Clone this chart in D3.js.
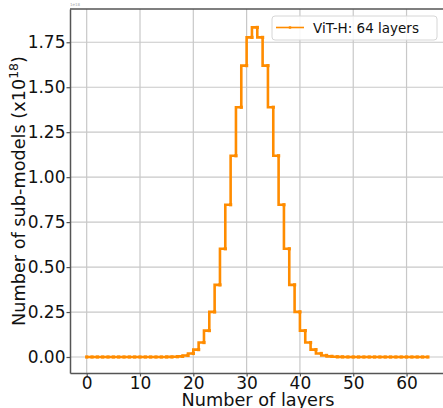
<!DOCTYPE html>
<html>
<head>
<meta charset="utf-8">
<script src="https://cdn.jsdelivr.net/npm/d3@7"></script>
<style>
  body { margin: 0; background: #fff; }
  svg { display: block; font-family: "DejaVu Sans", sans-serif; }
</style>
</head>
<body>
<div id="chart"></div>
<script>
// number of layers kept (0..64)
const layers = d3.range(0, 65);
// number of sub-models, in units of 1e18
const subModels = [
  0, 0, 0, 0, 0, 0, 0, 0, 0, 0,
  0, 0, 0, 0, 0.00002, 0.00017, 0.0005, 0.0014, 0.0036, 0.0087,
  0.0196, 0.0411, 0.0803, 0.1467, 0.2507, 0.4011, 0.6016, 0.8466, 1.1188, 1.3888,
  1.6203, 1.7771, 1.8326, 1.7771, 1.6203, 1.3888, 1.1188, 0.8466, 0.6016, 0.4011,
  0.2507, 0.1467, 0.0803, 0.0411, 0.0196, 0.0087, 0.0036, 0.0014, 0.0005, 0.00017,
  0.00002, 0, 0, 0, 0, 0, 0, 0, 0, 0,
  0, 0, 0, 0, 0
];
const xTicks = [0, 10, 20, 30, 40, 50, 60];
const yTicks = [0, 0.25, 0.5, 0.75, 1, 1.25, 1.5, 1.75];
const seriesName = "ViT-H: 64 layers";

const width = 443, height = 408;
const margin = { top: 9, right: -3, bottom: 35, left: 70 };
const color = "#ff8c00";

const svg = d3.select("#chart").append("svg")
  .attr("width", width)
  .attr("height", height);

const x = d3.scaleLinear()
  .domain([-3.13, 67.4])
  .range([margin.left, width - margin.right]);
const y = d3.scaleLinear()
  .domain([-0.089, 1.935])
  .range([height - margin.bottom, margin.top]);

// grid
svg.append("g")
  .selectAll("line")
  .data(xTicks)
  .join("line")
  .attr("x1", d => x(d)).attr("x2", d => x(d))
  .attr("y1", y.range()[0]).attr("y2", y.range()[1])
  .attr("stroke", "#c8c8c8").attr("stroke-width", 1.2);
svg.append("g")
  .selectAll("line")
  .data(yTicks)
  .join("line")
  .attr("x1", x.range()[0]).attr("x2", x.range()[1])
  .attr("y1", d => y(d)).attr("y2", d => y(d))
  .attr("stroke", "#c8c8c8").attr("stroke-width", 1.2);

// axes
const xAxis = svg.append("g")
  .attr("transform", `translate(0,${y.range()[0]})`)
  .call(d3.axisBottom(x).tickValues(xTicks).tickFormat(d3.format("d")).tickSize(3.5).tickPadding(0).tickSizeOuter(0));
const yAxis = svg.append("g")
  .attr("transform", `translate(${x.range()[0]},0)`)
  .call(d3.axisLeft(y).tickValues(yTicks).tickFormat(d3.format(".2f")).tickSize(3.5).tickPadding(1).tickSizeOuter(0));
[xAxis, yAxis].forEach(g => {
  g.select(".domain").attr("stroke", "#555").attr("stroke-width", 1.5);
  g.selectAll(".tick line").attr("stroke", "#555").attr("stroke-width", 1.2);
  g.selectAll(".tick text")
    .attr("fill", "#111")
    .style("font-size", "17px")
    .style("font-family", "DejaVu Sans, sans-serif");
});
// top spine
svg.append("line")
  .attr("x1", x.range()[0]).attr("x2", x.range()[1])
  .attr("y1", y.range()[1]).attr("y2", y.range()[1])
  .attr("stroke", "#555").attr("stroke-width", 1.5);

// offset text
svg.append("text")
  .attr("x", x.range()[0]).attr("y", 6)
  .attr("font-size", 4).attr("fill", "#aaa")
  .text("1e18");

// step line
const data = layers.map((l, i) => [l, subModels[i]]);
const line = d3.line()
  .x(d => x(d[0]))
  .y(d => y(d[1]))
  .curve(d3.curveStepBefore);
svg.append("path")
  .datum(data)
  .attr("fill", "none")
  .attr("stroke", color)
  .attr("stroke-width", 2.6)
  .attr("d", line);
svg.append("g")
  .selectAll("rect")
  .data(data)
  .join("rect")
  .attr("x", d => x(d[0]) - 1.6)
  .attr("y", d => y(d[1]) - 1.6)
  .attr("width", 3.2).attr("height", 3.2)
  .attr("fill", color);

// axis titles
svg.append("text")
  .attr("x", (x.range()[0] + x.range()[1]) / 2)
  .attr("y", 406)
  .attr("text-anchor", "middle")
  .attr("font-size", 17.7)
  .attr("fill", "#111")
  .text("Number of layers");

const yt = svg.append("text")
  .attr("transform", `translate(25,${(y.range()[0] + y.range()[1]) / 2}) rotate(-90)`)
  .attr("text-anchor", "middle")
  .attr("font-size", 17.7)
  .attr("fill", "#111");
yt.append("tspan").text("Number of sub-models (x10");
yt.append("tspan").attr("dy", -7).attr("font-size", 12.5).text("18");
yt.append("tspan").attr("dy", 7).text(")");

// legend
const lg = svg.append("g").attr("transform", "translate(272,16)");
lg.append("rect")
  .attr("width", 165).attr("height", 24).attr("rx", 3)
  .attr("fill", "#fff").attr("fill-opacity", 0.85)
  .attr("stroke", "#d6d6d6");
lg.append("line")
  .attr("x1", 4).attr("x2", 32).attr("y1", 11.5).attr("y2", 11.5)
  .attr("stroke", color).attr("stroke-width", 1.6);
lg.append("rect")
  .attr("x", 16.8).attr("y", 10.3).attr("width", 2.4).attr("height", 2.4).attr("fill", color);
lg.append("text")
  .attr("x", 41).attr("y", 16.5)
  .attr("font-size", 13.5)
  .attr("fill", "#111")
  .text(seriesName);
</script>
</body>
</html>
